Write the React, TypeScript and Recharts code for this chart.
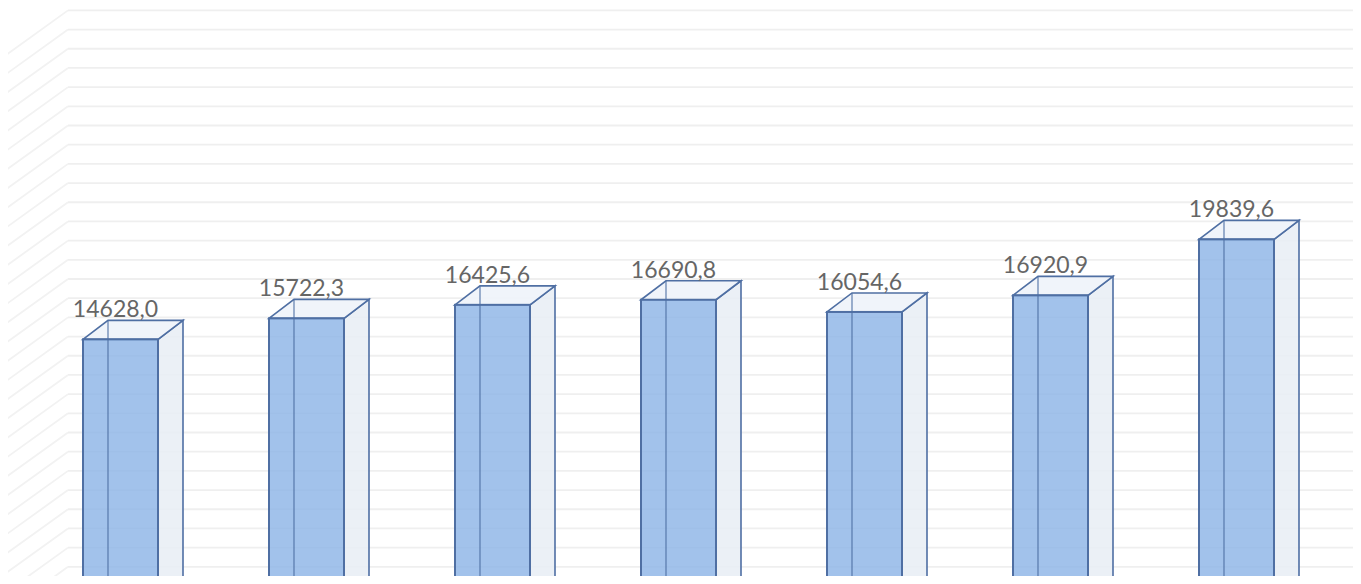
import { BarChart, Bar, XAxis, YAxis, CartesianGrid } from 'recharts';

// Seven periods (category labels are not shown in the picture)
const CATEGORIES = ['1', '2', '3', '4', '5', '6', '7'];
const VALUES = [14628.0, 15722.3, 16425.6, 16690.8, 16054.6, 16920.9, 19839.6];
const GRID_TICKS = Array.from({ length: 31 }, (_, i) => i * 1000);

const DEPTH_X = 25;
const DEPTH_Y = 19;
const WALL_DX = 28;
const WALL_DY = 34;

const EDGE = '#4f6fa3';

const data = CATEGORIES.map((name, i) => ({ name, value: VALUES[i] }));

function formatValue(v: number): string {
  return v.toFixed(1).replace('.', ',');
}

function GridLine(props: any) {
  const { x1, x2, y1 } = props;
  const y = y1 - WALL_DY;
  const left = x1 + WALL_DX;
  return (
    <g key={props.key}>
      <line x1={left} x2={x2 + WALL_DX + 40} y1={y} y2={y} stroke="#efefef" strokeWidth={1.8} />
      <line x1={left} y1={y} x2={0} y2={y + left * 0.72} stroke="#f2f2f2" strokeWidth={1.8} />
    </g>
  );
}

function Box(props: any) {
  const { x, y, width, height, payload } = props;
  const fw = width - DEPTH_X;
  const bottom = y + height;
  const bx = x + DEPTH_X;
  const by = y - DEPTH_Y;
  return (
    <g>
      {/* right side */}
      <polygon
        points={`${x + fw},${y} ${x + width},${by} ${x + width},${bottom - DEPTH_Y} ${x + fw},${bottom}`}
        fill="#e8edf4"
        fillOpacity={0.85}
        stroke={EDGE}
        strokeWidth={1.6}
      />
      {/* top */}
      <polygon
        points={`${x},${y} ${bx},${by} ${x + width},${by} ${x + fw},${y}`}
        fill="#eef3fa"
        fillOpacity={0.9}
        stroke={EDGE}
        strokeWidth={1.6}
      />
      {/* front */}
      <rect x={x} y={y} width={fw} height={height} fill="#8db4e6" fillOpacity={0.82} stroke={EDGE} strokeWidth={2} />
      {/* back-left edge seen through the front */}
      <line x1={bx} y1={by} x2={bx} y2={bottom} stroke={EDGE} strokeOpacity={0.6} strokeWidth={1.8} />
      <text
        x={x + fw / 2 - 5}
        y={by - 3}
        textAnchor="middle"
        fontFamily="Lato, 'Noto Sans', sans-serif"
        fontSize={23}
        fill="#666666"
      >
        {formatValue(payload.value)}
      </text>
    </g>
  );
}

export default function App() {
  return (
    <div style={{ margin: -8, width: 1361, height: 584, overflow: 'hidden', background: '#fff' }}>
      <BarChart
        width={1361}
        height={620}
        data={data}
        margin={{ top: 6, right: 19, left: 40, bottom: 0 }}
      >
        <CartesianGrid
          vertical={false}
          horizontal={GridLine}
          horizontalValues={GRID_TICKS}
        />
        <XAxis dataKey="name" hide />
        <YAxis hide domain={[0, 32000]} ticks={GRID_TICKS} interval={0} />
        <Bar dataKey="value" barSize={100} shape={Box} isAnimationActive={false} />
      </BarChart>
    </div>
  );
}
